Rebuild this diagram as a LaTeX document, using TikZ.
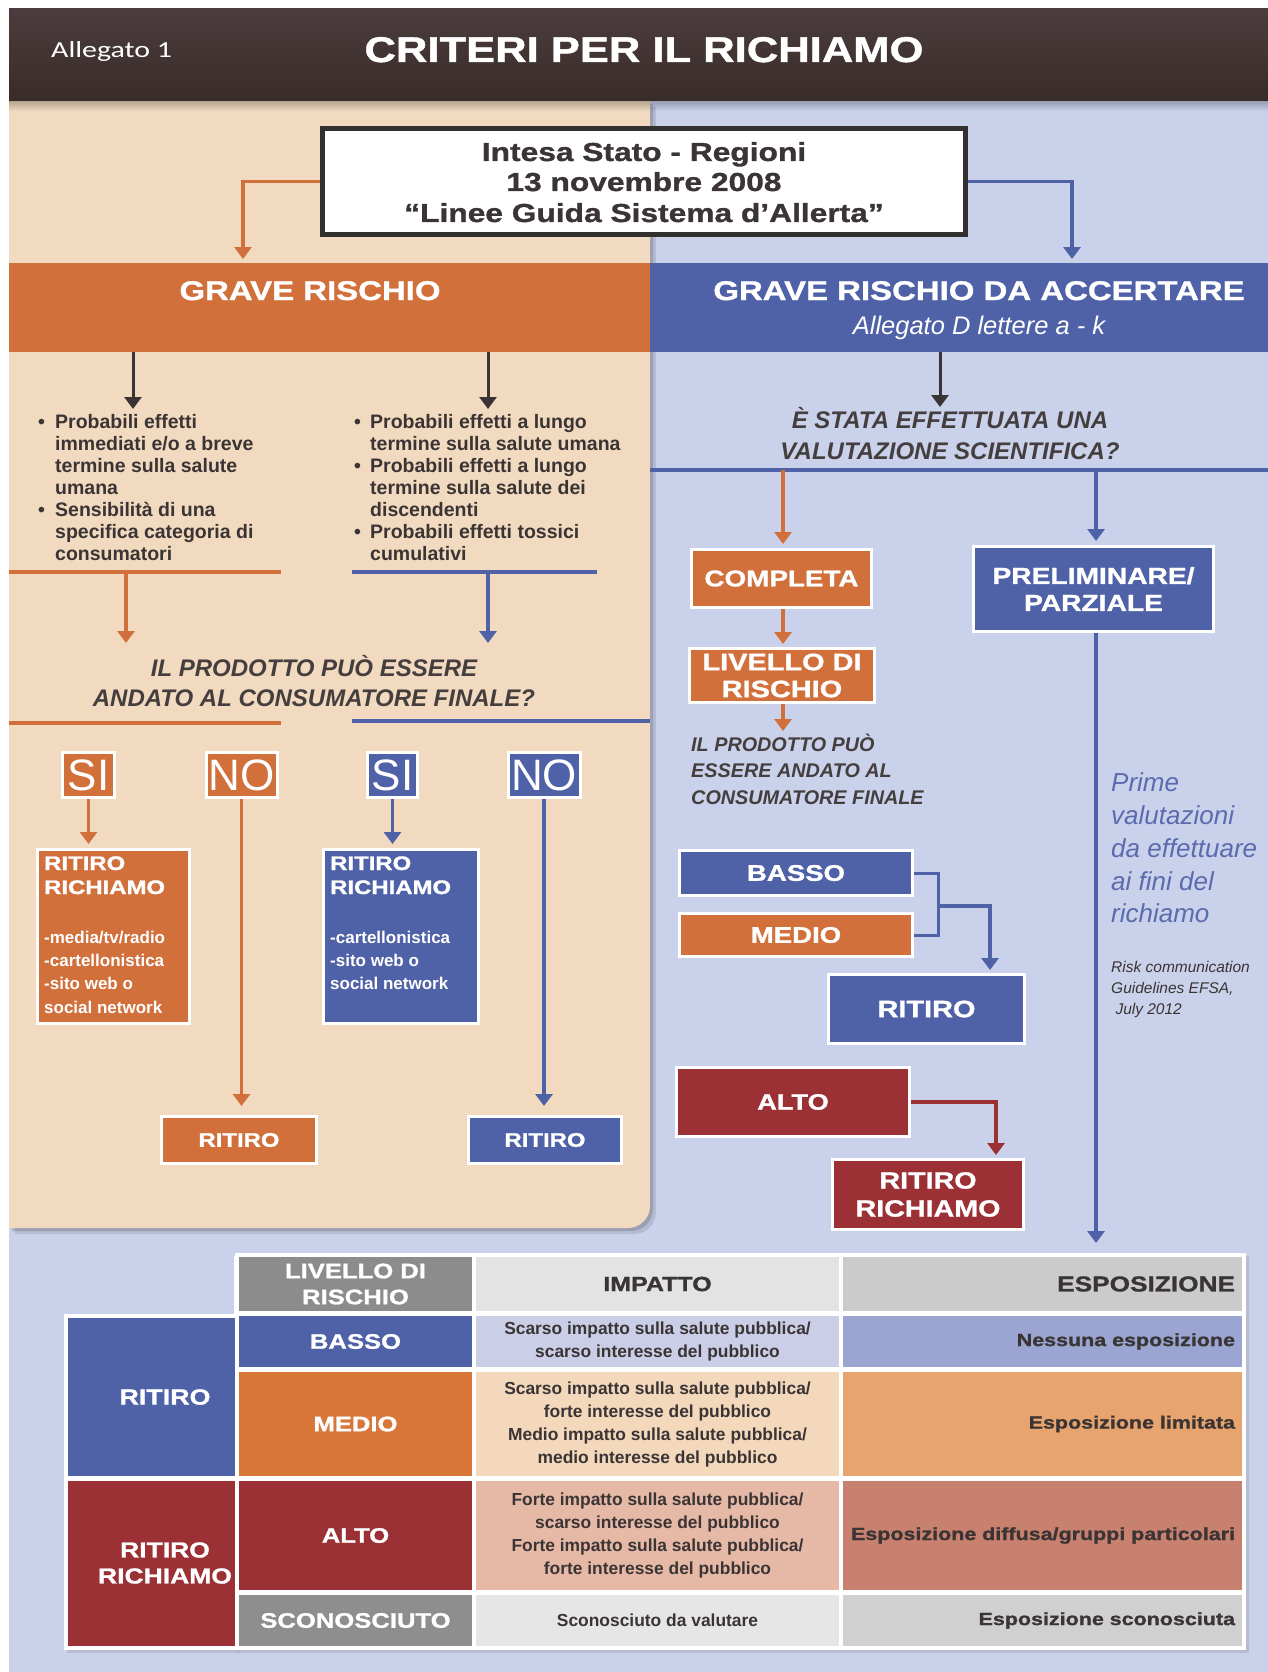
\documentclass[tikz,border=0pt]{standalone}
\usepackage{fontspec}
\setmainfont{Liberation Sans}
\newfontfamily\heavyfam[FakeStretch=1.22,FakeBold=1.2]{Liberation Sans}
\newfontfamily\calfam[FakeStretch=1.3]{Carlito}
\usetikzlibrary{arrows.meta,calc,shadows,fadings}

\definecolor{ttlA}{HTML}{4B3D3D}
\definecolor{ttlB}{HTML}{382B29}
\definecolor{peach}{HTML}{F1DABF}
\definecolor{sky}{HTML}{CAD1EA}
\definecolor{org}{HTML}{D2703C}
\definecolor{blu}{HTML}{5062A7}
\definecolor{crim}{HTML}{9B3035}
\definecolor{ink}{HTML}{3A3434}
\definecolor{qink}{HTML}{443E3E}
\definecolor{boxline}{HTML}{333030}
\definecolor{prime}{HTML}{5A6BAE}
\definecolor{hdrA}{HTML}{8C8C8C}
\definecolor{hdrB}{HTML}{E3E3E3}
\definecolor{hdrC}{HTML}{CBCBCB}
\definecolor{bassoB}{HTML}{CACEE6}
\definecolor{bassoC}{HTML}{9AA5D2}
\definecolor{medioA}{HTML}{D9773A}
\definecolor{medioB}{HTML}{F3D8BC}
\definecolor{medioC}{HTML}{E8A46E}
\definecolor{altoB}{HTML}{E6B9A6}
\definecolor{altoC}{HTML}{C8806F}
\definecolor{sconA}{HTML}{8E8E8E}
\definecolor{sconB}{HTML}{E6E6E6}
\definecolor{sconC}{HTML}{D0D0D0}

\newcommand\hvf[2]{\heavyfam\bfseries\fontsize{#1}{#2}\selectfont}
\newcommand\bdf[2]{\normalfont\bfseries\fontsize{#1}{#2}\selectfont}
\newcommand\itf[2]{\normalfont\itshape\fontsize{#1}{#2}\selectfont}
\newcommand\bif[2]{\normalfont\bfseries\itshape\fontsize{#1}{#2}\selectfont}
\newcommand\rgf[2]{\normalfont\fontsize{#1}{#2}\selectfont}

\begin{document}
\begin{tikzpicture}[x=1pt,y=-1pt,
  box/.style={rectangle,draw=white,line width=3pt,inner sep=0pt,text=white,align=center},
  obox/.style={box,fill=org},
  bbox/.style={box,fill=blu},
  rbox/.style={box,fill=crim},
  headtri/.style={-{Triangle[width=17pt,length=12pt]}},
  oarr/.style={draw=org,line width=3.5pt,headtri},
  barr/.style={draw=blu,line width=3.5pt,headtri},
  rarr/.style={draw=crim,line width=3.5pt,headtri},
  darr/.style={draw=ink,line width=3pt,headtri},
  osep/.style={draw=org,line width=4pt},
  bsep/.style={draw=blu,line width=4pt},
  txt/.style={inner sep=0pt},
  cell/.style={rectangle,inner sep=0pt,align=center},
  lab/.style={cell,text=white,font=\hvf{21}{26}},
  imp/.style={cell,text=ink,font=\bdf{17.4}{23}},
  expo/.style={cell,text=ink,font=\hvf{17.6}{22},text width=385pt,align=right},
]
\useasboundingbox (0,0) rectangle (1268,1672);

% page background
\fill[white] (0,0) rectangle (1268,1672);
\fill[sky] (9,101) rectangle (1268,1672);

% left panel with rounded lower right corner and soft shadow
\foreach \s/\o in {6/0.10,3/0.15}
  \fill[black,opacity=\o,shift={(\s,\s)}] (9,101) -- (650,101) -- (650,1206)
     arc[start angle=0,end angle=-90,radius=22pt] -- (9,1228) -- cycle;
\fill[peach] (9,101) -- (650,101) -- (650,1206)
     arc[start angle=0,end angle=-90,radius=22pt] -- (9,1228) -- cycle;

% title bar
\shade[top color=ttlA,bottom color=ttlB] (9,9) rectangle (1268,101);
\fill[black,opacity=0.25,path fading=south] (9,101) rectangle (1268,111);
\node[txt,anchor=base west,text=white,font=\calfam\fontsize{23}{28}\selectfont] (alleg) at (51,58) {Allegato 1};
\node[txt,anchor=base,text=white,font=\hvf{35.7}{42}] (titolo) at (644,62) {CRITERI PER IL RICHIAMO};

% agreement box
\node[draw=boxline,line width=5pt,fill=white,minimum width=643pt,minimum height=106pt,inner sep=0pt] (intesa) at (644,181.5) {};
\node[txt,anchor=base,text=ink,font=\hvf{26}{31}] (int1) at (644,161) {Intesa Stato - Regioni};
\node[txt,anchor=base,text=ink,font=\hvf{26}{31}] (int2) at (644,191) {13 novembre 2008};
\node[txt,anchor=base,text=ink,font=\hvf{26}{31}] (int3) at (644,222) {“Linee Guida Sistema d’Allerta”};

% the two risk bands
\node[fill=org,minimum width=641pt,minimum height=89pt,inner sep=0pt] (grave) at (329.5,307.5) {};
\node[fill=blu,minimum width=618pt,minimum height=89pt,inner sep=0pt] (accert) at (959,307.5) {};
\node[txt,anchor=base,text=white,font=\hvf{27}{32}] (graveT) at (310,300) {GRAVE RISCHIO};
\node[txt,anchor=base,text=white,font=\hvf{27}{32}] (accertT) at (979,300) {GRAVE RISCHIO DA ACCERTARE};
\node[txt,anchor=base,text=white,font=\itf{25.5}{30}] (accertS) at (979,334) {Allegato D lettere a - k};

\coordinate (gHead) at (243,259);
\coordinate (aHead) at (1072,259);
\draw[oarr] (intesa.west) -| (gHead);
\draw[barr] (intesa.east) -| (aHead);

% arrows out of the bands
\coordinate (dA) at (133,409);
\coordinate (dB) at (488,409);
\coordinate (dC) at (940,407);
\draw[darr] (grave.south -| dA) -- (dA);
\draw[darr] (grave.south -| dB) -- (dB);
\draw[darr] (accert.south -| dC) -- (dC);

% effects lists
\foreach \n/\yy/\tx in {1/428/{Probabili effetti},2/450/{immediati e/o a breve},
    3/472/{termine sulla salute},4/494/{umana},5/516/{Sensibilità di una},
    6/538/{specifica categoria di},7/560/{consumatori}}
  \node[txt,anchor=base west,text=ink,font=\bdf{19.5}{22}] (la\n) at (55,\yy) {\tx};
\foreach \n/\yy in {1/428,2/516}
  \node[txt,anchor=base west,text=ink,font=\bdf{19.5}{22}] (lb\n) at (38,\yy) {•};
\foreach \n/\yy/\tx in {1/428/{Probabili effetti a lungo},2/450/{termine sulla salute umana},
    3/472/{Probabili effetti a lungo},4/494/{termine sulla salute dei},5/516/{discendenti},
    6/538/{Probabili effetti tossici},7/560/{cumulativi}}
  \node[txt,anchor=base west,text=ink,font=\bdf{19.5}{22}] (ra\n) at (370,\yy) {\tx};
\foreach \n/\yy in {1/428,2/472,3/538}
  \node[txt,anchor=base west,text=ink,font=\bdf{19.5}{22}] (rb\n) at (354,\yy) {•};

% separators and arrows to the question
\draw[osep] (9,572) -- (281,572);
\draw[bsep] (352,572) -- (597,572);
\coordinate (qoS) at (126,572); \coordinate (qoE) at (126,643);
\coordinate (qbS) at (488,572); \coordinate (qbE) at (488,643);
\draw[oarr] (qoS) -- (qoE);
\draw[barr] (qbS) -- (qbE);

\node[txt,anchor=base,text=qink,font=\bif{24}{30}] (q1a) at (314,676) {IL PRODOTTO PUÒ ESSERE};
\node[txt,anchor=base,text=qink,font=\bif{24}{30}] (q1b) at (314,706) {ANDATO AL CONSUMATORE FINALE?};
\draw[osep] (9,723) -- (281,723);
\draw[bsep] (352,721) -- (650,721);

% yes / no answers
\node[obox,minimum width=52pt,minimum height=45pt,font=\rgf{44}{50}] (siA) at (88.5,775) {SI};
\node[obox,minimum width=71pt,minimum height=45pt,font=\rgf{44}{50}] (noA) at (241.5,775) {NO};
\node[bbox,minimum width=50pt,minimum height=45pt,font=\rgf{44}{50}] (siB) at (392.5,775) {SI};
\node[bbox,minimum width=72pt,minimum height=45pt,font=\rgf{44}{50}] (noB) at (544,775) {NO};

\node[obox,minimum width=152pt,minimum height=174pt] (rrA) at (113.5,936.5) {};
\node[bbox,minimum width=155pt,minimum height=174pt] (rrB) at (401,936.5) {};
\node[obox,minimum width=155pt,minimum height=47pt,font=\hvf{19.6}{24}] (ritA) at (239,1140) {RITIRO};
\node[bbox,minimum width=153pt,minimum height=47pt,font=\hvf{19.6}{24}] (ritB) at (545,1140) {RITIRO};

\draw[oarr,shorten >=4pt] (siA.south) -- (siA.south |- rrA.north);
\draw[oarr,shorten >=9pt] (noA.south) -- (noA.south |- ritA.north);
\draw[barr,shorten >=4pt] (siB.south) -- (siB.south |- rrB.north);
\draw[barr,shorten >=9pt] (noB.south) -- (noB.south |- ritB.north);

\node[txt,anchor=base west,text=white,font=\hvf{19.6}{24}] (rrA1) at (44,870) {RITIRO};
\node[txt,anchor=base west,text=white,font=\hvf{19.6}{24}] (rrA2) at (44,894) {RICHIAMO};
\foreach \n/\yy/\tx in {3/943/{-media/tv/radio},4/966/{-cartellonistica},5/989/{-sito web o},6/1013/{social network}}
  \node[txt,anchor=base west,text=white,font=\bdf{17}{23}] (rrA\n) at (44,\yy) {\tx};
\node[txt,anchor=base west,text=white,font=\hvf{19.6}{24}] (rrB1) at (330,870) {RITIRO};
\node[txt,anchor=base west,text=white,font=\hvf{19.6}{24}] (rrB2) at (330,894) {RICHIAMO};
\foreach \n/\yy/\tx in {3/943/{-cartellonistica},4/966/{-sito web o},5/989/{social network}}
  \node[txt,anchor=base west,text=white,font=\bdf{17}{23}] (rrB\n) at (330,\yy) {\tx};

% scientific assessment branch
\node[txt,anchor=base,text=qink,font=\bif{24}{30}] (q2a) at (950,428) {È STATA EFFETTUATA UNA};
\node[txt,anchor=base,text=qink,font=\bif{24}{30}] (q2b) at (950,459) {VALUTAZIONE SCIENTIFICA?};
\draw[bsep] (650,470) -- (1268,470);

\node[obox,minimum width=180pt,minimum height=58pt,font=\hvf{22.8}{27}] (compl) at (781.5,578.5) {COMPLETA};
\node[bbox,minimum width=240pt,minimum height=85pt,font=\hvf{23.1}{27}] (prelim) at (1093.5,589) {PRELIMINARE/\\PARZIALE};
\node[obox,minimum width=185pt,minimum height=54pt,font=\hvf{23.7}{27}] (livello) at (782,675.5) {LIVELLO DI\\RISCHIO};

\coordinate (rsO) at (783,470);
\coordinate (rsB) at (1096,470);
\draw[oarr,shorten >=4pt] (rsO) -- (rsO |- compl.north);
\draw[barr,shorten >=4pt] (rsB) -- (rsB |- prelim.north);
\draw[oarr,shorten >=3pt] (compl.south -| rsO) -- (livello.north -| rsO);
\coordinate (tProd) at (783,731);
\draw[oarr] (livello.south -| rsO) -- (tProd);

\node[txt,anchor=base west,text=qink,font=\bif{19.8}{27}] (pr1) at (691,751) {IL PRODOTTO PUÒ};
\node[txt,anchor=base west,text=qink,font=\bif{19.8}{27}] (pr2) at (691,777) {ESSERE ANDATO AL};
\node[txt,anchor=base west,text=qink,font=\bif{19.8}{27}] (pr3) at (691,804) {CONSUMATORE FINALE};

\coordinate (pEnd) at (1096,1243);
\draw[barr] (prelim.south -| pEnd) -- (pEnd);

\foreach \n/\yy/\tx in {1/791/{Prime},2/824/{valutazioni},3/857/{da effettuare},4/890/{ai fini del},5/922/{richiamo}}
  \node[txt,anchor=base west,text=prime,font=\itf{26}{33}] (pv\n) at (1111,\yy) {\tx};
\foreach \n/\yy/\tx in {1/972/{Risk communication},2/993/{Guidelines EFSA,},3/1014/{\ July 2012}}
  \node[txt,anchor=base west,text=ink,font=\itf{15.5}{21}] (rc\n) at (1111,\yy) {\tx};

% risk levels
\node[bbox,minimum width=233pt,minimum height=45pt,font=\hvf{22.6}{27}] (basso) at (796,873) {BASSO};
\node[obox,minimum width=233pt,minimum height=43pt,font=\hvf{22.6}{27}] (medio) at (796,935) {MEDIO};
\node[bbox,minimum width=196pt,minimum height=69pt,font=\hvf{23.7}{28}] (ritR) at (926.5,1009) {RITIRO};
\node[rbox,minimum width=233pt,minimum height=69pt,font=\hvf{22.3}{27}] (alto) at (793,1102) {ALTO};
\node[rbox,minimum width=191pt,minimum height=70pt,font=\hvf{23.5}{28}] (rrR) at (928,1194.5) {RITIRO\\RICHIAMO};

\draw[blu,line width=3pt] (basso.east) -- ++(24,0) |- (medio.east);
\coordinate (brk) at (938,906);
\coordinate (ritTop) at (990,970);
\draw[barr] (brk) -| (ritTop);
\coordinate (rrTop) at (996,1155);
\draw[rarr] (alto.east) -| (rrTop);

% summary table
\fill[white,drop shadow={opacity=0.25,shadow xshift=3pt,shadow yshift=-3pt}] (235,1253) rectangle (1246,1650);
\fill[white,drop shadow={opacity=0.25,shadow xshift=3pt,shadow yshift=-3pt}] (64,1314) rectangle (236,1650);
\fill[white] (234,1256) rectangle (1246,1650);

\node[cell,fill=hdrA,minimum width=233pt,minimum height=54pt,text=white,font=\hvf{21}{26}] (h1) at (355.5,1284) {LIVELLO DI\\RISCHIO};
\node[cell,fill=hdrB,minimum width=363pt,minimum height=54pt,text=ink,font=\hvf{20.5}{26}] (h2) at (657.5,1284) {IMPATTO};
\node[expo,fill=hdrC,minimum width=399pt,minimum height=54pt,font=\hvf{21.5}{26}] (h3) at (1042.5,1284) {ESPOSIZIONE};

\node[lab,fill=blu,minimum width=233pt,minimum height=51pt] (b1) at (355.5,1341.5) {BASSO};
\node[imp,fill=bassoB,minimum width=363pt,minimum height=51pt] (b2) at (657.5,1341.5) {Scarso impatto sulla salute pubblica/\\scarso interesse del pubblico};
\node[expo,fill=bassoC,minimum width=399pt,minimum height=51pt] (b3) at (1042.5,1341.5) {Nessuna esposizione};

\node[lab,fill=medioA,minimum width=233pt,minimum height=104pt] (m1) at (355.5,1424) {MEDIO};
\node[imp,fill=medioB,minimum width=363pt,minimum height=104pt] (m2) at (657.5,1424) {Scarso impatto sulla salute pubblica/\\forte interesse del pubblico\\Medio impatto sulla salute pubblica/\\medio interesse del pubblico};
\node[expo,fill=medioC,minimum width=399pt,minimum height=104pt] (m3) at (1042.5,1424) {Esposizione limitata};

\node[lab,fill=crim,minimum width=233pt,minimum height=109pt] (a1) at (355.5,1535.5) {ALTO};
\node[imp,fill=altoB,minimum width=363pt,minimum height=109pt] (a2) at (657.5,1535.5) {Forte impatto sulla salute pubblica/\\scarso interesse del pubblico\\Forte impatto sulla salute pubblica/\\forte interesse del pubblico};
\node[expo,fill=altoC,minimum width=399pt,minimum height=109pt] (a3) at (1042.5,1535.5) {Esposizione diffusa/gruppi particolari};

\node[lab,fill=sconA,minimum width=233pt,minimum height=51pt] (s1) at (355.5,1620.5) {SCONOSCIUTO};
\node[imp,fill=sconB,minimum width=363pt,minimum height=51pt] (s2) at (657.5,1620.5) {Sconosciuto da valutare};
\node[expo,fill=sconC,minimum width=399pt,minimum height=51pt] (s3) at (1042.5,1620.5) {Esposizione sconosciuta};

\node[cell,fill=blu,minimum width=167pt,minimum height=158pt] (colR) at (151.5,1397) {};
\node[cell,fill=crim,minimum width=167pt,minimum height=165pt] (colRR) at (151.5,1563.5) {};
\node[lab,font=\hvf{22}{26}] (colRt) at (165,1397) {RITIRO};
\node[lab,font=\hvf{21.7}{26}] (colRRt) at (165,1563) {RITIRO\\RICHIAMO};
\end{tikzpicture}
\end{document}
